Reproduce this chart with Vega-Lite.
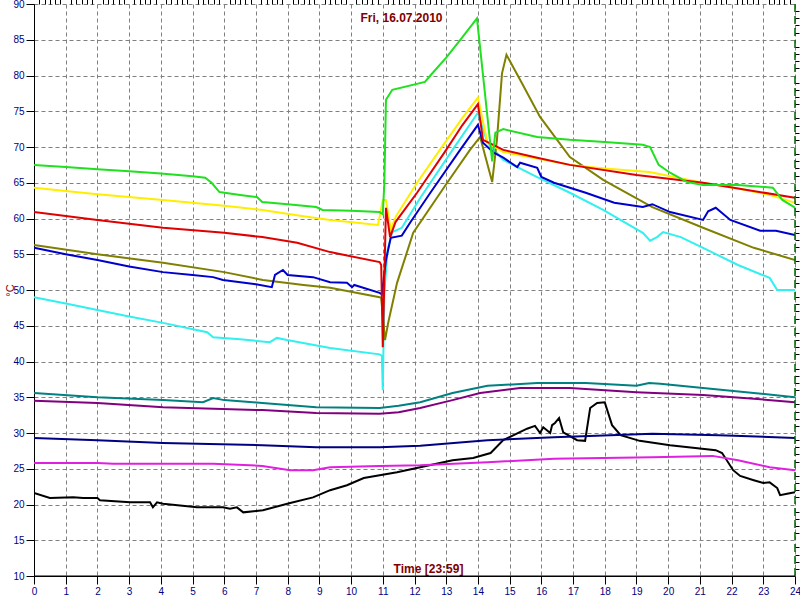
{
  "$schema": "https://vega.github.io/schema/vega-lite/v6.json",
  "width": 761,
  "height": 572,
  "autosize": {"type": "none"},
  "padding": {"left": 34, "top": 4, "right": 5, "bottom": 24},
  "background": "white",
  "config": {"view": {"stroke": null}, "font": "Liberation Sans"},
  "title": {"text": "Fri, 16.07.2010", "anchor": "middle", "offset": -26, "dx": -13, "fontSize": 12, "fontWeight": "bold", "color": "#800000", "font": "Liberation Sans"},
  "resolve": {"axis": {"x": "independent", "y": "independent"}},
  "layer": [
    {
      "data": {"values": [
        {"s":"black","t":0,"v":21.6},{"s":"black","t":0.5,"v":20.9},{"s":"black","t":1.24,"v":21.0},{"s":"black","t":1.55,"v":20.9},{"s":"black","t":2.0,"v":20.9},{"s":"black","t":2.08,"v":20.6},{"s":"black","t":3.03,"v":20.3},{"s":"black","t":3.66,"v":20.3},{"s":"black","t":3.75,"v":19.6},{"s":"black","t":3.88,"v":20.3},{"s":"black","t":4.07,"v":20.1},{"s":"black","t":5.14,"v":19.6},{"s":"black","t":5.96,"v":19.6},{"s":"black","t":6.18,"v":19.4},{"s":"black","t":6.4,"v":19.6},{"s":"black","t":6.6,"v":18.9},{"s":"black","t":7.22,"v":19.2},{"s":"black","t":8.08,"v":20.2},{"s":"black","t":8.8,"v":21.0},{"s":"black","t":9.34,"v":22.0},{"s":"black","t":9.87,"v":22.7},{"s":"black","t":10.4,"v":23.7},{"s":"black","t":11.45,"v":24.5},{"s":"black","t":12.18,"v":25.2},{"s":"black","t":13.2,"v":26.2},{"s":"black","t":13.85,"v":26.5},{"s":"black","t":14.4,"v":27.2},{"s":"black","t":14.8,"v":29.0},{"s":"black","t":15.55,"v":30.6},{"s":"black","t":15.8,"v":31.0},{"s":"black","t":15.96,"v":30.0},{"s":"black","t":16.06,"v":30.8},{"s":"black","t":16.28,"v":30.0},{"s":"black","t":16.34,"v":31.1},{"s":"black","t":16.43,"v":31.4},{"s":"black","t":16.56,"v":32.1},{"s":"black","t":16.69,"v":30.1},{"s":"black","t":17.13,"v":29.0},{"s":"black","t":17.38,"v":28.9},{"s":"black","t":17.54,"v":33.5},{"s":"black","t":17.76,"v":34.2},{"s":"black","t":18.0,"v":34.3},{"s":"black","t":18.23,"v":31.1},{"s":"black","t":18.5,"v":29.7},{"s":"black","t":19.1,"v":28.9},{"s":"black","t":20.06,"v":28.3},{"s":"black","t":21.5,"v":27.6},{"s":"black","t":21.7,"v":27.2},{"s":"black","t":22.05,"v":24.8},{"s":"black","t":22.27,"v":24.0},{"s":"black","t":22.7,"v":23.4},{"s":"black","t":23.0,"v":23.0},{"s":"black","t":23.2,"v":23.1},{"s":"black","t":23.44,"v":22.3},{"s":"black","t":23.53,"v":21.3},{"s":"black","t":23.75,"v":21.5},{"s":"black","t":24.0,"v":21.7},

        {"s":"magenta","t":0,"v":25.8},{"s":"magenta","t":2,"v":25.8},{"s":"magenta","t":2.5,"v":25.7},{"s":"magenta","t":5.65,"v":25.7},{"s":"magenta","t":7.2,"v":25.4},{"s":"magenta","t":8.08,"v":24.8},{"s":"magenta","t":8.8,"v":24.8},{"s":"magenta","t":9.34,"v":25.2},{"s":"magenta","t":10.9,"v":25.4},{"s":"magenta","t":12.18,"v":25.5},{"s":"magenta","t":14.3,"v":25.9},{"s":"magenta","t":16.4,"v":26.4},{"s":"magenta","t":19.5,"v":26.6},{"s":"magenta","t":21.4,"v":26.8},{"s":"magenta","t":22.2,"v":26.2},{"s":"magenta","t":23.2,"v":25.2},{"s":"magenta","t":24.0,"v":24.8},

        {"s":"navy","t":0,"v":29.3},{"s":"navy","t":2,"v":29.0},{"s":"navy","t":4.07,"v":28.6},{"s":"navy","t":7.2,"v":28.3},{"s":"navy","t":8.9,"v":28.0},{"s":"navy","t":10.9,"v":28.0},{"s":"navy","t":12.18,"v":28.2},{"s":"navy","t":14.3,"v":29.0},{"s":"navy","t":16.4,"v":29.4},{"s":"navy","t":19.5,"v":29.9},{"s":"navy","t":21.6,"v":29.7},{"s":"navy","t":24.0,"v":29.3},

        {"s":"purple","t":0,"v":34.5},{"s":"purple","t":2,"v":34.2},{"s":"purple","t":4.07,"v":33.6},{"s":"purple","t":7.2,"v":33.2},{"s":"purple","t":8.9,"v":32.8},{"s":"purple","t":10.9,"v":32.7},{"s":"purple","t":11.5,"v":32.9},{"s":"purple","t":12.18,"v":33.5},{"s":"purple","t":13.2,"v":34.6},{"s":"purple","t":14.07,"v":35.6},{"s":"purple","t":15.33,"v":36.3},{"s":"purple","t":16.9,"v":36.3},{"s":"purple","t":19.0,"v":35.7},{"s":"purple","t":21.1,"v":35.3},{"s":"purple","t":22.7,"v":34.8},{"s":"purple","t":24.0,"v":34.3},

        {"s":"teal","t":0,"v":35.6},{"s":"teal","t":2,"v":35.0},{"s":"teal","t":4.07,"v":34.6},{"s":"teal","t":5.33,"v":34.3},{"s":"teal","t":5.65,"v":34.9},{"s":"teal","t":6,"v":34.6},{"s":"teal","t":7.2,"v":34.2},{"s":"teal","t":8.9,"v":33.6},{"s":"teal","t":10.9,"v":33.5},{"s":"teal","t":11.5,"v":33.8},{"s":"teal","t":12.18,"v":34.3},{"s":"teal","t":13.2,"v":35.6},{"s":"teal","t":14.3,"v":36.6},{"s":"teal","t":15.87,"v":37.0},{"s":"teal","t":17.4,"v":37.0},{"s":"teal","t":19.0,"v":36.6},{"s":"teal","t":19.4,"v":37.0},{"s":"teal","t":19.75,"v":36.9},{"s":"teal","t":21.1,"v":36.3},{"s":"teal","t":22.7,"v":35.6},{"s":"teal","t":24.0,"v":35.0},

        {"s":"cyan","t":0,"v":49.0},{"s":"cyan","t":1,"v":48.1},{"s":"cyan","t":2,"v":47.2},{"s":"cyan","t":3,"v":46.3},{"s":"cyan","t":4.07,"v":45.4},{"s":"cyan","t":5.46,"v":44.1},{"s":"cyan","t":5.65,"v":43.4},{"s":"cyan","t":6.5,"v":43.1},{"s":"cyan","t":7.44,"v":42.7},{"s":"cyan","t":7.66,"v":43.3},{"s":"cyan","t":7.98,"v":43.0},{"s":"cyan","t":9.34,"v":41.9},{"s":"cyan","t":10.9,"v":41.0},{"s":"cyan","t":10.97,"v":40.8},{"s":"cyan","t":11.0,"v":36.0},{"s":"cyan","t":11.02,"v":41.6},{"s":"cyan","t":11.05,"v":49.6},{"s":"cyan","t":11.15,"v":55.6},{"s":"cyan","t":11.3,"v":58.1},{"s":"cyan","t":11.6,"v":58.7},{"s":"cyan","t":12.2,"v":63.0},{"s":"cyan","t":13.2,"v":69.6},{"s":"cyan","t":14.0,"v":74.8},{"s":"cyan","t":14.3,"v":70.6},{"s":"cyan","t":14.8,"v":68.2},{"s":"cyan","t":15.87,"v":65.8},{"s":"cyan","t":16.9,"v":63.6},{"s":"cyan","t":17.95,"v":61.2},{"s":"cyan","t":19.2,"v":58.0},{"s":"cyan","t":19.43,"v":56.9},{"s":"cyan","t":19.65,"v":57.4},{"s":"cyan","t":19.84,"v":58.1},{"s":"cyan","t":20.4,"v":57.4},{"s":"cyan","t":21.1,"v":55.9},{"s":"cyan","t":22.2,"v":53.5},{"s":"cyan","t":23.2,"v":51.7},{"s":"cyan","t":23.44,"v":50.0},{"s":"cyan","t":24.0,"v":50.0},

        {"s":"olive","t":0,"v":56.3},{"s":"olive","t":2,"v":55.0},{"s":"olive","t":4.07,"v":53.8},{"s":"olive","t":6,"v":52.5},{"s":"olive","t":7.22,"v":51.4},{"s":"olive","t":8.5,"v":50.7},{"s":"olive","t":9.34,"v":50.3},{"s":"olive","t":10.9,"v":49.0},{"s":"olive","t":10.95,"v":48.9},{"s":"olive","t":11.07,"v":43.0},{"s":"olive","t":11.17,"v":45.4},{"s":"olive","t":11.45,"v":51.0},{"s":"olive","t":11.96,"v":58.0},{"s":"olive","t":13.03,"v":65.0},{"s":"olive","t":13.75,"v":69.6},{"s":"olive","t":14.07,"v":71.4},{"s":"olive","t":14.45,"v":65.1},{"s":"olive","t":14.6,"v":71.0},{"s":"olive","t":14.76,"v":80.3},{"s":"olive","t":14.9,"v":82.9},{"s":"olive","t":15.33,"v":79.4},{"s":"olive","t":15.96,"v":74.2},{"s":"olive","t":16.9,"v":68.6},{"s":"olive","t":17.95,"v":65.4},{"s":"olive","t":19.5,"v":61.6},{"s":"olive","t":21.1,"v":58.7},{"s":"olive","t":22.7,"v":55.9},{"s":"olive","t":24.0,"v":54.2},

        {"s":"blue","t":0,"v":55.9},{"s":"blue","t":1,"v":55.0},{"s":"blue","t":2,"v":54.2},{"s":"blue","t":3,"v":53.3},{"s":"blue","t":4.07,"v":52.5},{"s":"blue","t":5,"v":52.1},{"s":"blue","t":5.65,"v":51.8},{"s":"blue","t":5.96,"v":51.4},{"s":"blue","t":7.0,"v":50.8},{"s":"blue","t":7.5,"v":50.4},{"s":"blue","t":7.6,"v":52.1},{"s":"blue","t":7.85,"v":52.8},{"s":"blue","t":8.0,"v":52.1},{"s":"blue","t":8.8,"v":51.8},{"s":"blue","t":9.34,"v":51.1},{"s":"blue","t":9.87,"v":51.0},{"s":"blue","t":10.03,"v":50.4},{"s":"blue","t":10.1,"v":50.7},{"s":"blue","t":10.9,"v":49.6},{"s":"blue","t":10.97,"v":49.4},{"s":"blue","t":11.1,"v":54.2},{"s":"blue","t":11.25,"v":57.3},{"s":"blue","t":11.6,"v":57.6},{"s":"blue","t":11.86,"v":59.4},{"s":"blue","t":12.5,"v":63.6},{"s":"blue","t":13.44,"v":69.6},{"s":"blue","t":14.0,"v":73.1},{"s":"blue","t":14.16,"v":70.6},{"s":"blue","t":14.5,"v":69.2},{"s":"blue","t":14.8,"v":68.5},{"s":"blue","t":15.24,"v":67.2},{"s":"blue","t":15.33,"v":67.8},{"s":"blue","t":15.87,"v":67.1},{"s":"blue","t":16.0,"v":65.8},{"s":"blue","t":16.4,"v":65.0},{"s":"blue","t":17.4,"v":63.6},{"s":"blue","t":18.3,"v":62.2},{"s":"blue","t":19.2,"v":61.6},{"s":"blue","t":19.5,"v":62.0},{"s":"blue","t":20.06,"v":60.9},{"s":"blue","t":21.1,"v":59.8},{"s":"blue","t":21.26,"v":61.0},{"s":"blue","t":21.5,"v":61.5},{"s":"blue","t":21.96,"v":59.8},{"s":"blue","t":22.9,"v":58.3},{"s":"blue","t":23.4,"v":58.3},{"s":"blue","t":24.0,"v":57.7},

        {"s":"yellow","t":0,"v":64.3},{"s":"yellow","t":2,"v":63.4},{"s":"yellow","t":4.07,"v":62.6},{"s":"yellow","t":6,"v":61.8},{"s":"yellow","t":7.2,"v":61.2},{"s":"yellow","t":8.5,"v":60.3},{"s":"yellow","t":9.34,"v":59.8},{"s":"yellow","t":10.85,"v":59.1},{"s":"yellow","t":11.0,"v":62.6},{"s":"yellow","t":11.1,"v":62.6},{"s":"yellow","t":11.25,"v":58.4},{"s":"yellow","t":11.4,"v":60.2},{"s":"yellow","t":12.08,"v":65.0},{"s":"yellow","t":12.8,"v":69.6},{"s":"yellow","t":13.5,"v":74.0},{"s":"yellow","t":14.0,"v":76.9},{"s":"yellow","t":14.3,"v":70.6},{"s":"yellow","t":14.8,"v":69.3},{"s":"yellow","t":15.87,"v":68.4},{"s":"yellow","t":16.9,"v":67.5},{"s":"yellow","t":18.0,"v":67.0},{"s":"yellow","t":19.4,"v":66.5},{"s":"yellow","t":20.2,"v":65.8},{"s":"yellow","t":21.1,"v":65.0},{"s":"yellow","t":22.2,"v":64.2},{"s":"yellow","t":23.2,"v":63.3},{"s":"yellow","t":24.0,"v":62.2},

        {"s":"red","t":0,"v":60.9},{"s":"red","t":2,"v":59.8},{"s":"red","t":4.07,"v":58.7},{"s":"red","t":6,"v":58.0},{"s":"red","t":7.2,"v":57.4},{"s":"red","t":8.3,"v":56.6},{"s":"red","t":9.34,"v":55.3},{"s":"red","t":10.9,"v":53.9},{"s":"red","t":10.95,"v":53.5},{"s":"red","t":11.0,"v":42.0},{"s":"red","t":11.1,"v":61.5},{"s":"red","t":11.23,"v":57.4},{"s":"red","t":11.4,"v":59.5},{"s":"red","t":12.08,"v":63.6},{"s":"red","t":13.0,"v":69.6},{"s":"red","t":13.5,"v":73.0},{"s":"red","t":14.0,"v":76.0},{"s":"red","t":14.16,"v":71.0},{"s":"red","t":14.8,"v":69.6},{"s":"red","t":15.87,"v":68.5},{"s":"red","t":16.9,"v":67.5},{"s":"red","t":19.0,"v":66.1},{"s":"red","t":21.1,"v":65.0},{"s":"red","t":24.0,"v":62.9},

        {"s":"green","t":0,"v":67.5},{"s":"green","t":1,"v":67.2},{"s":"green","t":2,"v":66.9},{"s":"green","t":3,"v":66.6},{"s":"green","t":4,"v":66.3},{"s":"green","t":5,"v":65.9},{"s":"green","t":5.4,"v":65.7},{"s":"green","t":5.6,"v":65.0},{"s":"green","t":5.85,"v":63.7},{"s":"green","t":6.5,"v":63.3},{"s":"green","t":7.03,"v":63.0},{"s":"green","t":7.2,"v":62.3},{"s":"green","t":8,"v":62.0},{"s":"green","t":8.9,"v":61.6},{"s":"green","t":9.1,"v":61.2},{"s":"green","t":10,"v":61.1},{"s":"green","t":10.9,"v":60.9},{"s":"green","t":11.0,"v":60.6},{"s":"green","t":11.05,"v":65.0},{"s":"green","t":11.1,"v":76.6},{"s":"green","t":11.3,"v":78.0},{"s":"green","t":12.33,"v":79.1},{"s":"green","t":12.5,"v":80.0},{"s":"green","t":13.0,"v":82.5},{"s":"green","t":13.5,"v":85.3},{"s":"green","t":13.97,"v":88.0},{"s":"green","t":14.45,"v":68.0},{"s":"green","t":14.55,"v":72.0},{"s":"green","t":14.8,"v":72.5},{"s":"green","t":15.87,"v":71.4},{"s":"green","t":16.9,"v":71.0},{"s":"green","t":18.0,"v":70.7},{"s":"green","t":19.2,"v":70.3},{"s":"green","t":19.43,"v":70.0},{"s":"green","t":19.7,"v":67.5},{"s":"green","t":20.06,"v":66.4},{"s":"green","t":20.6,"v":65.1},{"s":"green","t":21.1,"v":64.7},{"s":"green","t":22.2,"v":64.7},{"s":"green","t":23.3,"v":64.3},{"s":"green","t":23.6,"v":62.6},{"s":"green","t":24.0,"v":61.5}
      ]},
      "mark": {"type": "line", "strokeWidth": 2, "clip": true},
      "encoding": {
        "x": {"field": "t", "type": "quantitative",
          "scale": {"domain": [0, 24], "nice": false, "zero": false},
          "axis": {"values": [0,1,2,3,4,5,6,7,8,9,10,11,12,13,14,15,16,17,18,19,20,21,22,23,24],
            "format": "d", "grid": true, "gridDash": [4, 3], "gridColor": "#808080", "gridOpacity": 1,
            "domainColor": "#000000", "tickColor": "#000000", "tickSize": 8, "labelPadding": 2,
            "labelColor": "#000080", "labelFontSize": 10, "labelFont": "Liberation Sans", "labelFlush": false, "labelOverlap": false,
            "title": "Time [23:59]", "titleX": 394, "titleY": -4, "titleAlign": "center", "titleBaseline": "alphabetic",
            "titleColor": "#800000", "titleFontWeight": "bold", "titleFontSize": 12, "titleFont": "Liberation Sans"}},
        "y": {"field": "v", "type": "quantitative",
          "scale": {"domain": [10, 90], "nice": false, "zero": false},
          "axis": {"values": [10,15,20,25,30,35,40,45,50,55,60,65,70,75,80,85,90],
            "grid": true, "gridDash": [4, 3], "gridColor": "#808080", "gridOpacity": 1,
            "domainColor": "#000000", "tickColor": "#000000", "tickSize": 8, "labelPadding": 2,
            "labelColor": "#000080", "labelFontSize": 10, "labelFont": "Liberation Sans", "labelFlush": false, "labelOverlap": false,
            "title": "°C", "titleAngle": 270, "titleX": -24, "titleY": 286, "titleAlign": "center", "titleBaseline": "middle",
            "titleColor": "#800000", "titleFontWeight": "normal", "titleFontSize": 11, "titleFont": "Liberation Sans"}},
        "color": {"field": "s", "type": "nominal", "legend": null,
          "scale": {"domain": ["black","magenta","navy","purple","teal","cyan","olive","blue","yellow","red","green"],
                    "range": ["#000000","#e020e0","#000080","#800080","#008080","#30f0f0","#808000","#0000cc","#ffee00","#e00000","#20e020"]}}
      }
    },
    {
      "data": {"values": [{"t": 24}]},
      "mark": {"type": "rule", "color": "#006400", "strokeDash": [8, 4], "strokeWidth": 1.5},
      "encoding": {
        "x": {"field": "t", "type": "quantitative",
          "axis": {"values": [0.1667,0.3333,0.5,0.6667,0.8333,1.1667,1.3333,1.5,1.6667,1.8333,2.1667,2.3333,2.5,2.6667,2.8333,3.1667,3.3333,3.5,3.6667,3.8333,4.1667,4.3333,4.5,4.6667,4.8333,5.1667,5.3333,5.5,5.6667,5.8333,6.1667,6.3333,6.5,6.6667,6.8333,7.1667,7.3333,7.5,7.6667,7.8333,8.1667,8.3333,8.5,8.6667,8.8333,9.1667,9.3333,9.5,9.6667,9.8333,10.1667,10.3333,10.5,10.6667,10.8333,11.1667,11.3333,11.5,11.6667,11.8333,12.1667,12.3333,12.5,12.6667,12.8333,13.1667,13.3333,13.5,13.6667,13.8333,14.1667,14.3333,14.5,14.6667,14.8333,15.1667,15.3333,15.5,15.6667,15.8333,16.1667,16.3333,16.5,16.6667,16.8333,17.1667,17.3333,17.5,17.6667,17.8333,18.1667,18.3333,18.5,18.6667,18.8333,19.1667,19.3333,19.5,19.6667,19.8333,20.1667,20.3333,20.5,20.6667,20.8333,21.1667,21.3333,21.5,21.6667,21.8333,22.1667,22.3333,22.5,22.6667,22.8333,23.1667,23.3333,23.5,23.6667,23.8333],
            "labels": false, "grid": false, "domain": false, "tickSize": 5, "tickColor": "#000000", "title": null}}
      }
    },
    {
      "data": {"values": [{"v": 10}]},
      "mark": {"type": "rule", "color": "#000000", "strokeWidth": 1},
      "encoding": {
        "y": {"field": "v", "type": "quantitative",
          "axis": {"values": [11,12,13,14,16,17,18,19,21,22,23,24,26,27,28,29,31,32,33,34,36,37,38,39,41,42,43,44,46,47,48,49,51,52,53,54,56,57,58,59,61,62,63,64,66,67,68,69,71,72,73,74,76,77,78,79,81,82,83,84,86,87,88,89],
            "labels": false, "grid": false, "domain": false, "tickSize": 4, "tickColor": "#000000", "title": null}}
      }
    }
  ]
}
